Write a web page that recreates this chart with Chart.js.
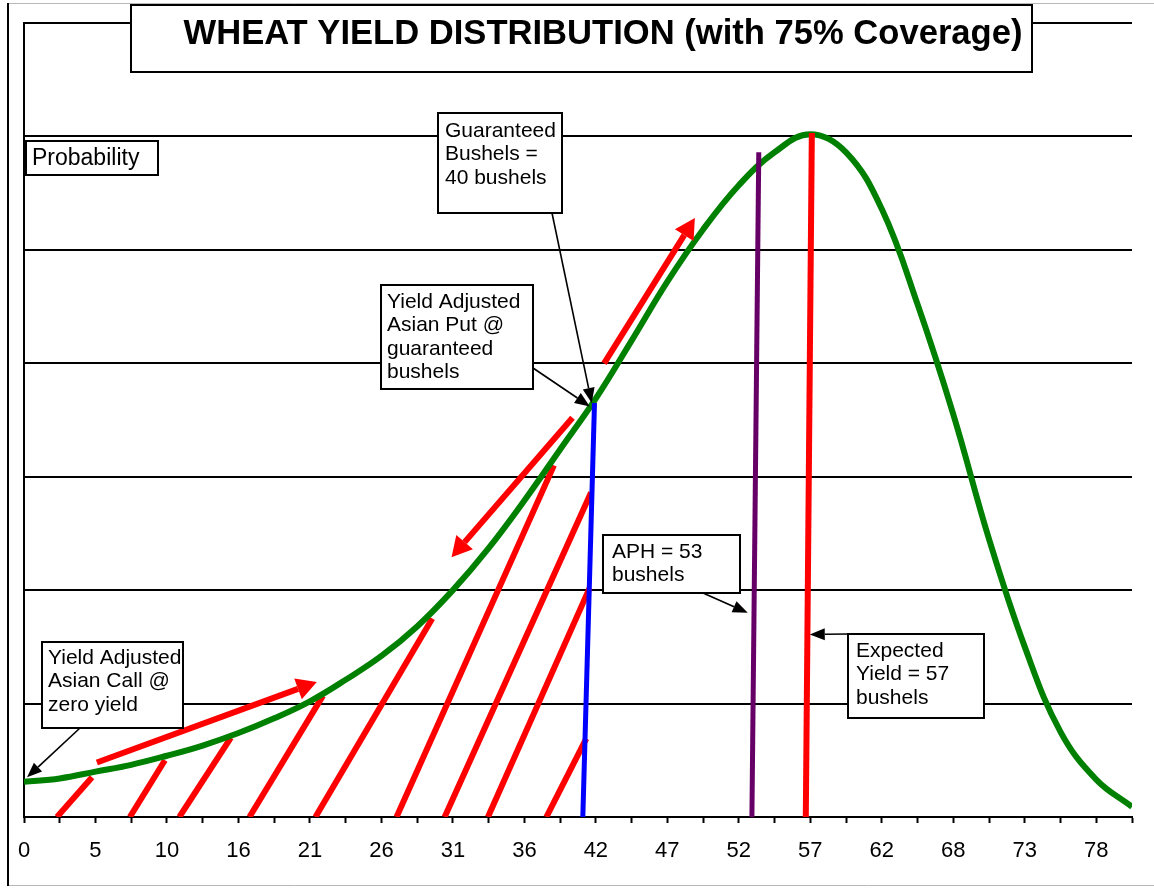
<!DOCTYPE html>
<html>
<head>
<meta charset="utf-8">
<title>Wheat Yield Distribution</title>
<script src="https://cdn.jsdelivr.net/npm/chart.js@4/dist/chart.umd.min.js"></script>
<style>
  html, body { margin: 0; padding: 0; background: #fff; }
  #wrap { width: 1154px; height: 888px; }
</style>
</head>
<body>
<div id="wrap"><canvas id="yieldChart" width="1154" height="888"></canvas></div>
<script>
// --- values ---
// yield categories (bushels), one every 2.6
const yieldX = [0, 2.6, 5.2, 7.8, 10.4, 13, 15.6, 18.2, 20.8, 23.4, 26, 28.6, 31.2, 33.8, 36.4, 39,
  41.6, 44.2, 46.8, 49.4, 52, 54.6, 57.2, 59.8, 62.4, 65, 67.6, 70.2, 72.8, 75.4, 78, 80.6];
const probability = [0.31, 0.34, 0.40, 0.46, 0.54, 0.63, 0.74, 0.87, 1.02, 1.21, 1.42, 1.68, 2.00, 2.37, 2.79, 3.24,
  3.69, 4.20, 4.72, 5.18, 5.57, 5.86, 6.02, 5.86, 5.36, 4.52, 3.55, 2.45, 1.50, 0.75, 0.33, 0.09];
const xTickLabels = ['0', '5', '10', '16', '21', '26', '31', '36', '42', '47', '52', '57', '62', '68', '73', '78'];

// red hatch strokes under the curve (base on the axis, top on the curve)
const hatchBaseX = [2.4, 7.7, 11.3, 16.4, 21.2, 27.1, 30.6, 33.75, 38.0];
const hatchTopX = [4.95, 10.25, 15.05, 21.75, 29.7, 38.55, 41.25, 41.15, 40.9];
const hatchTopY = [0.35, 0.50, 0.70, 1.07, 1.75, 3.10, 2.86, 2.02, 0.69];

// marker lines: guaranteed 40, APH 53, expected 57
const markerNames = ['Guaranteed', 'APH', 'Expected'];
const markerBaseX = [40.65, 52.95, 56.87];
const markerTopX = [41.5, 53.45, 57.31];
const markerTopY = [3.65, 5.86, 6.03];
const markerColors = ['#0000ff', '#660066', '#ff0000'];

// red direction arrows (tail -> tip)
const moveTailX = [5.3, 39.9, 42.2];
const moveTailY = [0.48, 3.52, 4.0];
const moveTipX = [21.3, 31.1, 48.8];
const moveTipY = [1.19, 2.29, 5.28];

const FONT = '"Liberation Sans", Arial, sans-serif';

// text boxes (pixel layout) with the data point each one points at
const notes = [
  { lines: ['Guaranteed', 'Bushels =', '40 bushels'], box: [438, 113, 562, 213], textX: 445, firstY: 131,
    tail: [552, 213], tip: [41.3, 3.65] },
  { lines: ['Yield Adjusted', 'Asian Put @', 'guaranteed', 'bushels'], box: [381, 285, 533, 389], textX: 387, firstY: 302,
    tail: [533, 368], tip: [41.16, 3.62] },
  { lines: ['APH = 53', 'bushels'], box: [603, 535, 740, 593], textX: 612, firstY: 552,
    tail: [703, 593], tip: [52.65, 1.80] },
  { lines: ['Expected', 'Yield = 57', 'bushels'], box: [848, 634, 984, 718], textX: 856, firstY: 651,
    tail: [848, 634], tip: [57.16, 1.61] },
  { lines: ['Yield Adjusted', 'Asian Call @', 'zero yield'], box: [42, 642, 183, 728], textX: 48, firstY: 658,
    tail: [80, 728], tip: [0.22, 0.35] }
];

function drawArrow(ctx, x1, y1, x2, y2, width, headLen, headWidth, color) {
  const ang = Math.atan2(y2 - y1, x2 - x1);
  const bx = x2 - Math.cos(ang) * headLen;
  const by = y2 - Math.sin(ang) * headLen;
  ctx.save();
  ctx.strokeStyle = color;
  ctx.fillStyle = color;
  ctx.lineWidth = width;
  ctx.beginPath();
  ctx.moveTo(x1, y1);
  ctx.lineTo(bx, by);
  ctx.stroke();
  ctx.beginPath();
  ctx.moveTo(x2, y2);
  ctx.lineTo(bx + Math.sin(ang) * headWidth / 2, by - Math.cos(ang) * headWidth / 2);
  ctx.lineTo(bx - Math.sin(ang) * headWidth / 2, by + Math.cos(ang) * headWidth / 2);
  ctx.closePath();
  ctx.fill();
  ctx.restore();
}

function textBox(ctx, x1, y1, x2, y2) {
  ctx.fillStyle = '#fff';
  ctx.fillRect(x1, y1, x2 - x1, y2 - y1);
  ctx.strokeStyle = '#000';
  ctx.lineWidth = 2;
  ctx.strokeRect(x1, y1, x2 - x1, y2 - y1);
}

// frame, red arrows, text boxes and title
const decorations = {
  id: 'decorations',
  beforeDraw(chart) {
    const ctx = chart.ctx;
    ctx.save();
    ctx.fillStyle = '#fff';
    ctx.fillRect(0, 0, chart.width, chart.height);
    ctx.strokeStyle = '#b8b8b8';
    ctx.lineWidth = 1;
    ctx.beginPath();
    ctx.moveTo(8, 3.5); ctx.lineTo(1154, 3.5);
    ctx.moveTo(8, 885.5); ctx.lineTo(1154, 885.5);
    ctx.stroke();
    ctx.strokeStyle = '#000';
    ctx.lineWidth = 2;
    ctx.beginPath();
    ctx.moveTo(8, 3); ctx.lineTo(8, 886);
    ctx.stroke();
    ctx.restore();
  },
  afterDatasetsDraw(chart) {
    const ctx = chart.ctx;
    const xs = chart.scales.x, ys = chart.scales.y;
    moveTailX.forEach((tx, i) => {
      drawArrow(ctx, xs.getPixelForValue(tx), ys.getPixelForValue(moveTailY[i]),
        xs.getPixelForValue(moveTipX[i]), ys.getPixelForValue(moveTipY[i]), 6, 20, 22, '#ff0000');
    });
  },
  afterDraw(chart) {
    const ctx = chart.ctx;
    const xs = chart.scales.x, ys = chart.scales.y;
    ctx.save();

    // title
    textBox(ctx, 131, 5, 1032, 72);
    ctx.fillStyle = '#000';
    ctx.font = 'bold 34.6px ' + FONT;
    ctx.textAlign = 'center';
    ctx.textBaseline = 'alphabetic';
    ctx.fillText('WHEAT YIELD DISTRIBUTION (with 75% Coverage)', 603, 44);

    // axis caption
    textBox(ctx, 26, 141, 158, 175);
    ctx.font = '23px ' + FONT;
    ctx.textAlign = 'left';
    ctx.textBaseline = 'middle';
    ctx.fillStyle = '#000';
    ctx.fillText('Probability', 32, 159);

    // callouts
    notes.forEach(n => {
      drawArrow(ctx, n.tail[0], n.tail[1], xs.getPixelForValue(n.tip[0]), ys.getPixelForValue(n.tip[1]),
        1.6, 15, 12, '#000');
    });
    notes.forEach(n => {
      textBox(ctx, n.box[0], n.box[1], n.box[2], n.box[3]);
      ctx.fillStyle = '#000';
      ctx.font = '21px ' + FONT;
      ctx.textAlign = 'left';
      ctx.textBaseline = 'middle';
      n.lines.forEach((t, j) => ctx.fillText(t, n.textX, n.firstY + j * 23.5));
    });
    ctx.restore();
  }
};

const datasets = [];
datasets.push({
  label: 'Yield distribution',
  data: yieldX.map((x, i) => ({ x: x, y: probability[i] })),
  borderColor: '#008000',
  borderWidth: 6,
  pointRadius: 0,
  tension: 0.4,
  order: 1
});
hatchBaseX.forEach((bx, i) => {
  datasets.push({
    label: 'hatch ' + (i + 1),
    data: [{ x: bx, y: 0 }, { x: hatchTopX[i], y: hatchTopY[i] }],
    borderColor: '#ff0000',
    borderWidth: 6,
    pointRadius: 0,
    order: 2
  });
});
markerNames.forEach((name, i) => {
  datasets.push({
    label: name,
    data: [{ x: markerBaseX[i], y: 0 }, { x: markerTopX[i], y: markerTopY[i] }],
    borderColor: markerColors[i],
    borderWidth: i === 2 ? 6 : 5,
    pointRadius: 0,
    order: 0
  });
});

new Chart(document.getElementById('yieldChart'), {
  type: 'line',
  data: { datasets: datasets },
  plugins: [decorations],
  options: {
    responsive: false,
    animation: false,
    devicePixelRatio: 1,
    layout: { padding: { left: 24, right: 22, top: 23, bottom: 0 } },
    plugins: { legend: { display: false }, tooltip: { enabled: false }, title: { display: false } },
    scales: {
      x: {
        type: 'linear',
        min: 0,
        max: 80.6,
        afterBuildTicks: (scale) => { scale.ticks = yieldX.map(v => ({ value: v })); },
        afterFit: (scale) => { scale.height = 71; },
        ticks: {
          autoSkip: false,
          maxRotation: 0,
          padding: 15,
          color: '#000',
          font: { family: FONT, size: 22 },
          callback: (val, i) => (i % 2 === 0 ? xTickLabels[i / 2] : '')
        },
        grid: { drawOnChartArea: false, drawTicks: true, tickLength: 6, tickColor: '#000', tickWidth: 2 },
        border: { color: '#000', width: 2 }
      },
      y: {
        min: 0,
        max: 7,
        ticks: { display: false, stepSize: 1 },
        grid: { color: '#000', lineWidth: 2, drawTicks: false },
        border: { color: '#000', width: 2 }
      }
    }
  }
});
</script>
</body>
</html>
